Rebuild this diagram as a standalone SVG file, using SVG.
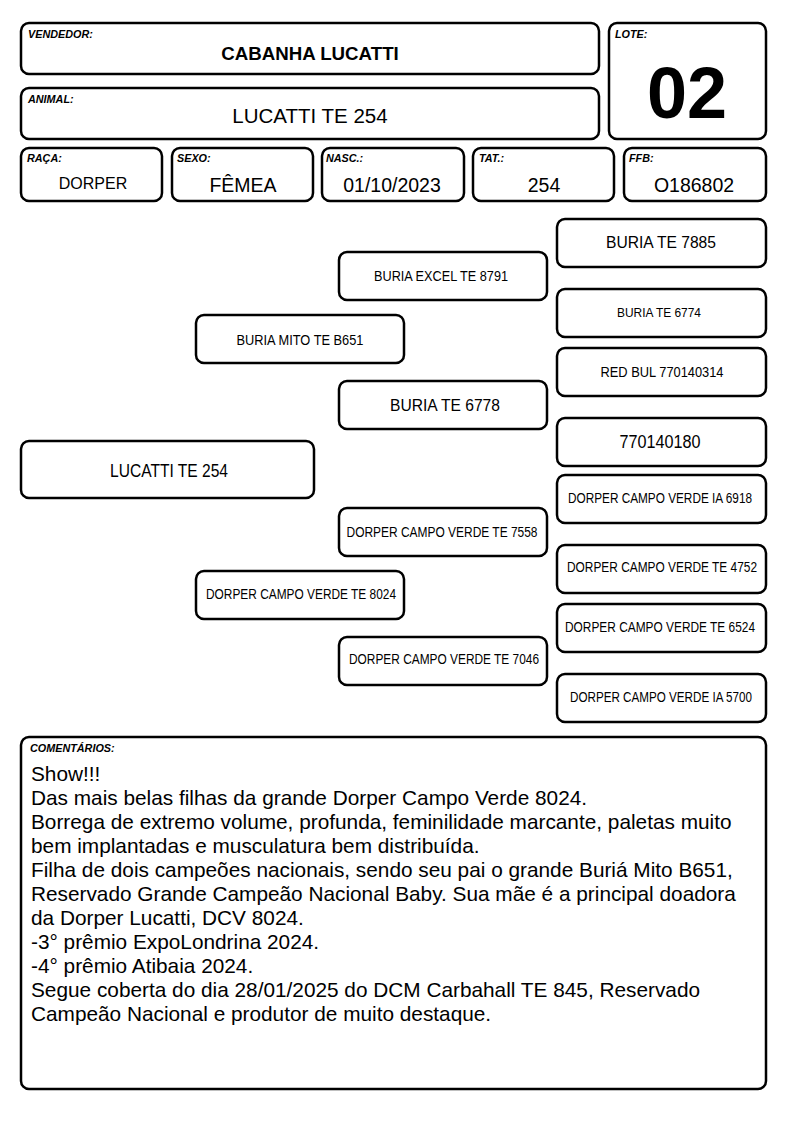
<svg xmlns="http://www.w3.org/2000/svg" width="794" height="1123" viewBox="0 0 794 1123">
<style>
.box{fill:#fff;stroke:#000;stroke-width:2.5}
.lbl{font-family:"Liberation Sans",Arial,sans-serif;font-size:10.8px;font-weight:bold;font-style:italic}
.t{font-family:"Liberation Sans",Arial,sans-serif;text-anchor:middle;fill:#000}
.c{font-family:"Liberation Sans",Arial,sans-serif;font-size:20.8px;fill:#000}
</style>
<rect width="794" height="1123" fill="#fff"/>
<g id="vendedor"><rect class="box" x="21" y="23" width="578" height="51" rx="8"/><text class="lbl" x="28" y="38">VENDEDOR:</text><text class="t" x="310" y="60" font-size="18.7" font-weight="bold">CABANHA LUCATTI</text></g>
<g id="animal"><rect class="box" x="21" y="88" width="578" height="51" rx="8"/><text class="lbl" x="28" y="103">ANIMAL:</text><text class="t" x="310" y="123" font-size="20.5">LUCATTI TE 254</text></g>
<g id="lote"><rect class="box" x="609" y="23" width="157" height="116" rx="8"/><text class="lbl" x="615" y="38">LOTE:</text><text class="t" x="687" y="118" font-size="72" font-weight="bold">02</text></g>
<g id="raca"><rect class="box" x="21" y="148" width="141" height="53" rx="8"/><text class="lbl" x="27" y="162">RAÇA:</text><text class="t" x="93" y="189" font-size="16">DORPER</text></g>
<g id="sexo"><rect class="box" x="172" y="148" width="141" height="53" rx="8"/><text class="lbl" x="177" y="162">SEXO:</text><text class="t" x="243" y="192" font-size="19.5">FÊMEA</text></g>
<g id="nasc"><rect class="box" x="322" y="148" width="142" height="53" rx="8"/><text class="lbl" x="326" y="162">NASC.:</text><text class="t" x="392" y="192" font-size="19.5">01/10/2023</text></g>
<g id="tat"><rect class="box" x="473" y="148" width="141" height="53" rx="8"/><text class="lbl" x="479" y="162">TAT.:</text><text class="t" x="544" y="192" font-size="19.5">254</text></g>
<g id="ffb"><rect class="box" x="624" y="148" width="142" height="53" rx="8"/><text class="lbl" x="629" y="162">FFB:</text><text class="t" x="694" y="192" font-size="19.5">O186802</text></g>
<g id="connectors"></g>
<g id="n-buria-7885"><rect class="box" x="557" y="219" width="209" height="48" rx="8"/><text class="t" x="661" y="248" font-size="17" textLength="110" lengthAdjust="spacingAndGlyphs">BURIA TE 7885</text></g>
<g id="n-buria-excel-8791"><rect class="box" x="339" y="252" width="208" height="48" rx="8"/><text class="t" x="441" y="281" font-size="14" textLength="134" lengthAdjust="spacingAndGlyphs">BURIA EXCEL TE 8791</text></g>
<g id="n-buria-6774"><rect class="box" x="557" y="289" width="209" height="48" rx="8"/><text class="t" x="659" y="317" font-size="13.5" textLength="84" lengthAdjust="spacingAndGlyphs">BURIA TE 6774</text></g>
<g id="n-buria-mito-b651"><rect class="box" x="196" y="315" width="208" height="48" rx="8"/><text class="t" x="300" y="345" font-size="14.5" textLength="127" lengthAdjust="spacingAndGlyphs">BURIA MITO TE B651</text></g>
<g id="n-red-bul"><rect class="box" x="557" y="348" width="209" height="48" rx="8"/><text class="t" x="662" y="377" font-size="14.5" textLength="123" lengthAdjust="spacingAndGlyphs">RED BUL 770140314</text></g>
<g id="n-buria-6778"><rect class="box" x="339" y="381" width="208" height="48" rx="8"/><text class="t" x="445" y="411" font-size="17" textLength="110" lengthAdjust="spacingAndGlyphs">BURIA TE 6778</text></g>
<g id="n-770140180"><rect class="box" x="557" y="418" width="209" height="48" rx="8"/><text class="t" x="660" y="448" font-size="17.5" textLength="81" lengthAdjust="spacingAndGlyphs">770140180</text></g>
<g id="n-lucatti-254"><rect class="box" x="21" y="441" width="293" height="57" rx="8"/><text class="t" x="169" y="477" font-size="18.5" textLength="118" lengthAdjust="spacingAndGlyphs">LUCATTI TE 254</text></g>
<g id="n-dcv-ia-6918"><rect class="box" x="557" y="475" width="209" height="48" rx="8"/><text class="t" x="660" y="503" font-size="14" textLength="184" lengthAdjust="spacingAndGlyphs">DORPER CAMPO VERDE IA 6918</text></g>
<g id="n-dcv-te-7558"><rect class="box" x="339" y="508" width="208" height="48" rx="8"/><text class="t" x="442" y="537" font-size="14" textLength="191" lengthAdjust="spacingAndGlyphs">DORPER CAMPO VERDE TE 7558</text></g>
<g id="n-dcv-te-4752"><rect class="box" x="557" y="545" width="209" height="48" rx="8"/><text class="t" x="662" y="572" font-size="14" textLength="190" lengthAdjust="spacingAndGlyphs">DORPER CAMPO VERDE TE 4752</text></g>
<g id="n-dcv-te-8024"><rect class="box" x="196" y="571" width="208" height="48" rx="8"/><text class="t" x="301" y="599" font-size="14" textLength="190" lengthAdjust="spacingAndGlyphs">DORPER CAMPO VERDE TE 8024</text></g>
<g id="n-dcv-te-6524"><rect class="box" x="557" y="604" width="209" height="48" rx="8"/><text class="t" x="660" y="632" font-size="14" textLength="190" lengthAdjust="spacingAndGlyphs">DORPER CAMPO VERDE TE 6524</text></g>
<g id="n-dcv-te-7046"><rect class="box" x="339" y="637" width="208" height="48" rx="8"/><text class="t" x="444" y="664" font-size="14" textLength="190" lengthAdjust="spacingAndGlyphs">DORPER CAMPO VERDE TE 7046</text></g>
<g id="n-dcv-ia-5700"><rect class="box" x="557" y="674" width="209" height="48" rx="8"/><text class="t" x="661" y="702" font-size="14" textLength="182" lengthAdjust="spacingAndGlyphs">DORPER CAMPO VERDE IA 5700</text></g>
<g id="comentarios"><rect class="box" x="21" y="737" width="745" height="352" rx="8"/><text class="lbl" x="30" y="752" font-size="9.5">COMENTÁRIOS:</text>
<text class="c"><tspan x="31" y="781">Show!!!</tspan><tspan x="31" y="805">Das mais belas filhas da grande Dorper Campo Verde 8024.</tspan><tspan x="31" y="829">Borrega de extremo volume, profunda, feminilidade marcante, paletas muito</tspan><tspan x="31" y="853">bem implantadas e musculatura bem distribuída.</tspan><tspan x="31" y="877">Filha de dois campeões nacionais, sendo seu pai o grande Buriá Mito B651,</tspan><tspan x="31" y="901">Reservado Grande Campeão Nacional Baby. Sua mãe é a principal doadora</tspan><tspan x="31" y="925">da Dorper Lucatti, DCV 8024.</tspan><tspan x="31" y="949">-3° prêmio ExpoLondrina 2024.</tspan><tspan x="31" y="973">-4° prêmio Atibaia 2024.</tspan><tspan x="31" y="997">Segue coberta do dia 28/01/2025 do DCM Carbahall TE 845, Reservado</tspan><tspan x="31" y="1021">Campeão Nacional e produtor de muito destaque.</tspan></text></g>
</svg>
